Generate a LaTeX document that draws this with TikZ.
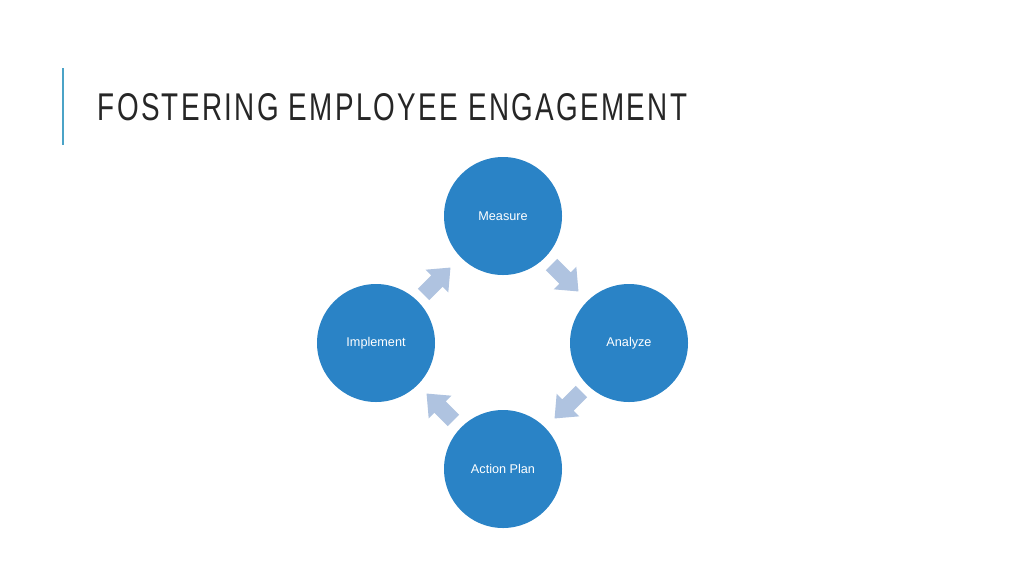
\documentclass[tikz,border=0pt]{standalone}
\usepackage{fontspec}
\setmainfont{Liberation Sans}
\newfontfamily\titlefont[FakeStretch=0.72,LetterSpace=6]{Liberation Sans}
\begin{document}
\begin{tikzpicture}[x=0.75pt,y=-0.75pt,
  circ/.style={circle,fill=cBlue,minimum size=88.5pt,inner sep=0pt,text=white,font=\fontsize{9.5}{11}\selectfont},
  blockarrow/.style={fill=cArrow,draw=none}]
\definecolor{cBlue}{HTML}{2A83C6}
\definecolor{cArrow}{HTML}{AFC3E0}
\definecolor{cTitle}{HTML}{262626}
\definecolor{cLine}{HTML}{4BA3C7}
\useasboundingbox (0,0) rectangle (1024,576);
\fill[white] (0,0) rectangle (1024,576);
\draw[cLine,line width=1.5pt] (63,68) -- (63,145);
\node[anchor=west,text=cTitle,font=\titlefont\fontsize{29}{32}\selectfont] (title) at (93,107) {FOSTERING EMPLOYEE ENGAGEMENT};
\node[circ] (m) at (503,216) {Measure};
\node[circ] (a) at (629,343) {Analyze};
\node[circ] (p) at (503,469) {Action Plan};
\node[circ] (i) at (376,343) {Implement};
\foreach \cx/\cy/\r in {437/281/45, 565/278/-45, 568/405/-135, 440/407/135}{
  \fill[cArrow,shift={(\cx,\cy)},rotate=\r] (-19,-8) -- (0,-8) -- (0,-16) -- (19,0) -- (0,16) -- (0,8) -- (-19,8) -- cycle;
}
\end{tikzpicture}
\end{document}
